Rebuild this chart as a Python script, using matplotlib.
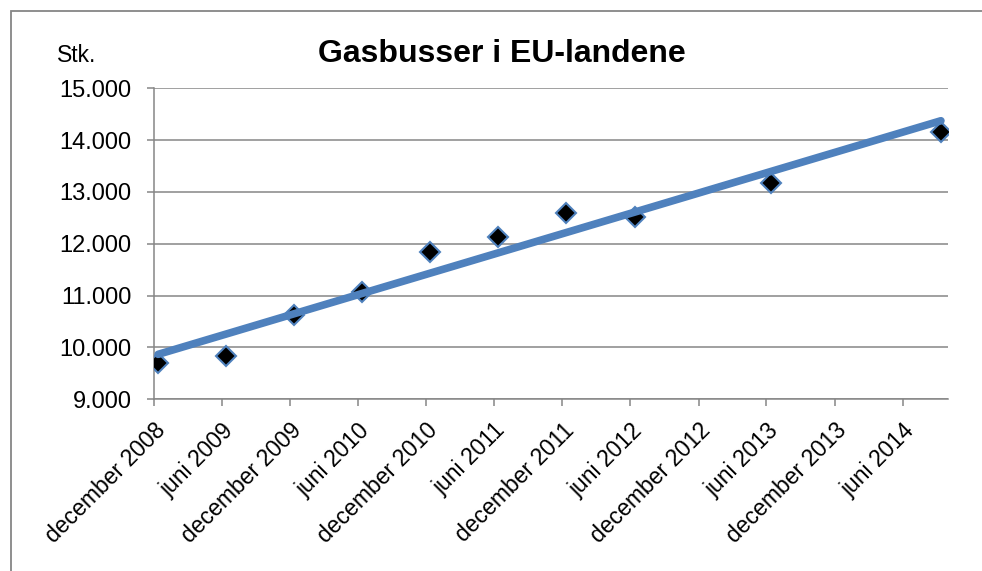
import datetime as dt

import numpy as np
import matplotlib
matplotlib.use("Agg")
from matplotlib import pyplot as plt
import matplotlib.dates as mdates
import matplotlib.patches as patches

plt.rcParams['font.family'] = ['Liberation Sans', 'DejaVu Sans']

# data (number of gas buses)
obs_dates = [dt.date(2008, 12, 12), dt.date(2009, 6, 12), dt.date(2009, 12, 12),
             dt.date(2010, 6, 12), dt.date(2010, 12, 12), dt.date(2011, 6, 12),
             dt.date(2011, 12, 12), dt.date(2012, 6, 12), dt.date(2013, 6, 12),
             dt.date(2014, 9, 12)]
buses = [9700, 9840, 10630, 11070, 11850, 12140, 12590, 12520, 13170, 14160]

tick_dates = [dt.date(2008, 12, 1), dt.date(2009, 6, 1), dt.date(2009, 12, 1),
              dt.date(2010, 6, 1), dt.date(2010, 12, 1), dt.date(2011, 6, 1),
              dt.date(2011, 12, 1), dt.date(2012, 6, 1), dt.date(2012, 12, 1),
              dt.date(2013, 6, 1), dt.date(2013, 12, 1), dt.date(2014, 6, 1)]
tick_labels = ["december 2008", "juni 2009", "december 2009", "juni 2010",
               "december 2010", "juni 2011", "december 2011", "juni 2012",
               "december 2012", "juni 2013", "december 2013", "juni 2014"]
y_ticks = [9000, 10000, 11000, 12000, 13000, 14000, 15000]
y_labels = ["9.000", "10.000", "11.000", "12.000", "13.000", "14.000", "15.000"]

blue = '#4F81BD'
grey = '#868686'

x = mdates.date2num(obs_dates)
y = np.array(buses)

fig = plt.figure(figsize=(9.82, 5.71), dpi=100)
ax = fig.add_axes([154 / 982, 1 - 399.3 / 571, 794 / 982, 311 / 571])

for yt in y_ticks:
    ax.axhline(yt, color=grey, lw=1.1, zorder=1)

ax.plot(x, y, linestyle='none', marker='D', ms=10, mfc='black',
        mec=blue, mew=1.5, zorder=3)

# linear trendline
k, b = np.polyfit(x, y, 1)
xt = np.array([x[0], x[-1]])
ax.plot(xt, k * xt + b, color=blue, lw=5.5, solid_capstyle='round', zorder=4)

ax.set_xlim(mdates.date2num(dt.date(2008, 12, 1)), mdates.date2num(dt.date(2014, 10, 1)))
ax.set_ylim(9000, 15000)

ax.set_yticks(y_ticks)
ax.set_yticklabels(y_labels, fontsize=17)
ax.set_xticks(mdates.date2num(tick_dates))
ax.set_xticklabels(tick_labels, fontsize=16.5, rotation=45,
                   ha='right', va='top', rotation_mode='anchor')
ax.tick_params(axis='y', length=5, width=1.1, color=grey, pad=11)
ax.tick_params(axis='x', length=5, width=1.1, color=grey, pad=9)

for side in ['top', 'right']:
    ax.spines[side].set_visible(False)
for side in ['left', 'bottom']:
    ax.spines[side].set_color(grey)
    ax.spines[side].set_linewidth(1.1)

fig.text(502 / 982, 1 - 62 / 571, 'Gasbusser i EU-landene', ha='center',
         va='baseline', fontsize=23, fontweight='bold')
fig.text(57 / 982, 1 - 62 / 571, 'Stk.', ha='left', va='baseline', fontsize=16.5)

# outer chart frame
frame = patches.Rectangle((11 / 982, -0.5), 2, 1.5 - 11 / 571, transform=fig.transFigure,
                          fill=False, edgecolor=grey, lw=1.3)
fig.add_artist(frame)

fig.savefig('out.png', dpi=100)
